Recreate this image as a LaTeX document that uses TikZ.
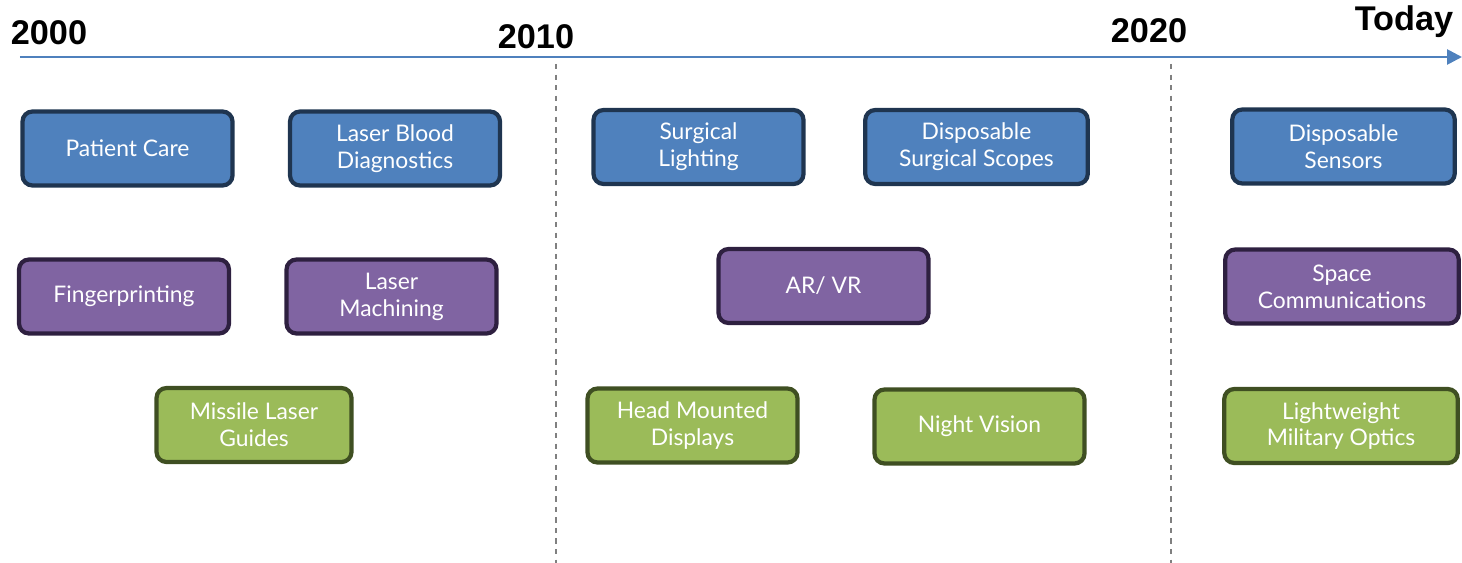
\documentclass[tikz,border=0pt]{standalone}
\usepackage{fontspec}
\setmainfont{Lato}
\newfontfamily\yearfont{Liberation Sans}
\usetikzlibrary{arrows.meta}

\definecolor{boxblue}{HTML}{4F81BD}
\definecolor{lineblue}{HTML}{1F3550}
\definecolor{boxpurple}{HTML}{8064A2}
\definecolor{linepurple}{HTML}{2E2040}
\definecolor{boxgreen}{HTML}{9BBB59}
\definecolor{linegreen}{HTML}{3F4F22}
\definecolor{axisblue}{HTML}{4F81BD}

\begin{document}
\begin{tikzpicture}[
        appbox/.style={draw, line width=2.4pt, rounded corners=0.2cm, text=white,
            minimum width=4.2cm, minimum height=1.48cm, align=center,
            font=\fontsize{13}{15.3}\selectfont},
        medbox/.style={appbox, fill=boxblue, draw=lineblue},
        indbox/.style={appbox, fill=boxpurple, draw=linepurple},
        milbox/.style={appbox, fill=boxgreen, draw=linegreen},
        year/.style={font=\yearfont\bfseries\fontsize{19.5}{22}\selectfont}
    ]
    \useasboundingbox (0, 0) rectangle (29.24, -11.26);

    % timeline
    \coordinate (tstart) at (0.4, -1.14);
    \coordinate (tend) at (29.24, -1.14);
    \draw[axisblue, line width=1.5pt, -{Triangle[length=0.3cm, width=0.3cm]}] (tstart) -- (tend);

    \coordinate (d1top) at (11.12, -1.28);
    \coordinate (d1bot) at (11.12, -11.26);
    \coordinate (d2top) at (23.42, -1.28);
    \coordinate (d2bot) at (23.42, -11.26);
    \draw[gray, dashed, line width=0.7pt] (d1top) -- (d1bot);
    \draw[gray, dashed, line width=0.7pt] (d2top) -- (d2bot);

    \node[year] (y2000) at (0.98, -0.66) {2000};
    \node[year] (y2010) at (10.72, -0.74) {2010};
    \node[year] (y2020) at (22.98, -0.62) {2020};
    \node[year] (ytoday) at (28.08, -0.44) {Today};

    % 2000 - 2010
    \node[medbox] (care) at (2.55, -2.97) {Patient Care};
    \node[medbox] (blood) at (7.90, -2.97) {Laser Blood\\Diagnostics};
    \node[indbox] (finger) at (2.48, -5.93) {Fingerprinting};
    \node[indbox] (machining) at (7.83, -5.93) {Laser\\Machining};
    \node[milbox, minimum width=3.9cm] (missile) at (5.08, -8.50) {Missile Laser\\Guides};

    % 2010 - 2020
    \node[medbox] (lighting) at (13.97, -2.94) {Surgical\\Lighting};
    \node[medbox, minimum width=4.45cm] (scopes) at (19.53, -2.94) {Disposable\\Surgical Scopes};
    \node[indbox] (arvr) at (16.47, -5.72) {AR/ VR};
    \node[milbox] (hmd) at (13.85, -8.51) {Head Mounted\\Displays};
    \node[milbox] (night) at (19.59, -8.53) {Night Vision};

    % 2020 - today
    \node[medbox, minimum width=4.45cm] (sensors) at (26.87, -2.93) {Disposable\\Sensors};
    \node[indbox, minimum width=4.67cm] (space) at (26.84, -5.73) {Space\\Communications};
    \node[milbox, minimum width=4.67cm] (optics) at (26.82, -8.52) {Lightweight\\Military Optics};
\end{tikzpicture}
\end{document}
